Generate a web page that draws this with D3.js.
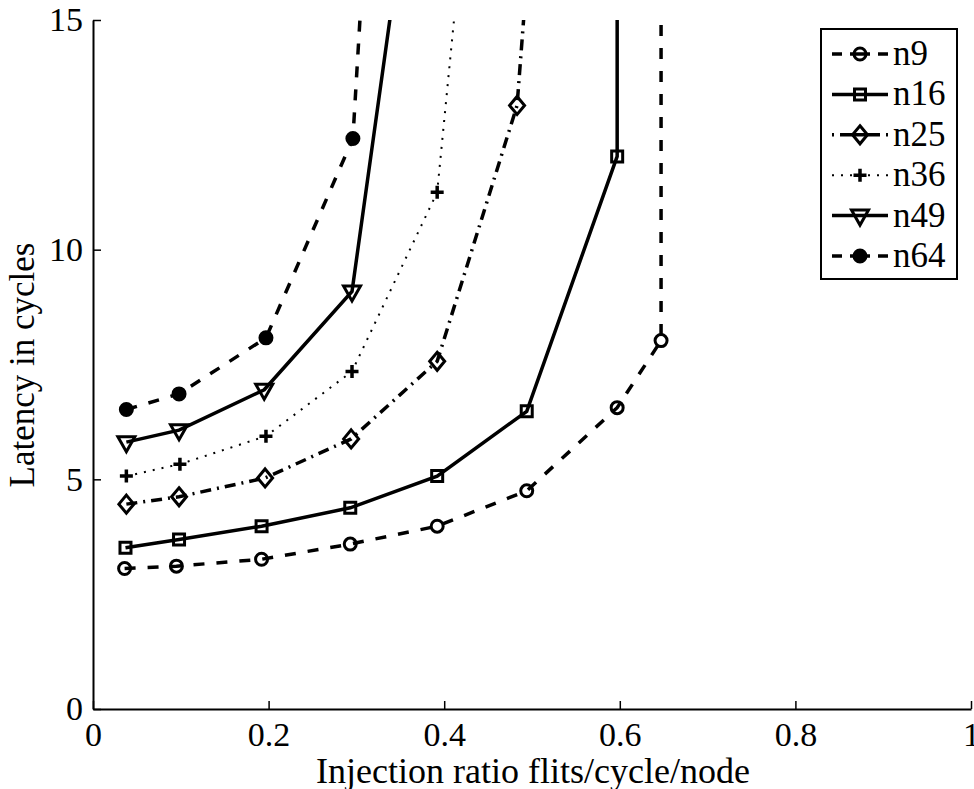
<!DOCTYPE html>
<html>
<head>
<meta charset="utf-8">
<script src="https://cdnjs.cloudflare.com/ajax/libs/d3/7.8.5/d3.min.js"></script>
<style>
  body { margin: 0; background: #fff; }
  svg text { font-family: "Liberation Serif", "Times New Roman", Times, serif; fill: #000; }
</style>
</head>
<body>
<script>
// series data (x = injection ratio, y = latency)
var names = ['n9', 'n16', 'n25', 'n36', 'n49', 'n64'];
var xN9 = [0.036, 0.095, 0.192, 0.293, 0.392, 0.494, 0.597, 0.647, 0.647];
var yN9 = [3.06, 3.11, 3.26, 3.59, 3.98, 4.75, 6.56, 8.02, 30];
var xN16 = [0.037, 0.098, 0.192, 0.293, 0.392, 0.494, 0.597, 0.597];
var yN16 = [3.51, 3.69, 3.98, 4.38, 5.07, 6.48, 12.03, 30];
var xN25 = [0.038, 0.098, 0.196, 0.294, 0.392, 0.483, 0.5];
var yN25 = [4.46, 4.62, 5.03, 5.88, 7.57, 13.14, 17.4];
var xN36 = [0.038, 0.099, 0.197, 0.295, 0.392, 0.45];
var yN36 = [5.07, 5.33, 5.94, 7.35, 11.25, 22.6];
var xN49 = [0.038, 0.098, 0.195, 0.295, 0.4];
var yN49 = [5.81, 6.07, 6.95, 9.09, 23.5];
var xN64 = [0.038, 0.098, 0.197, 0.296, 0.35];
var yN64 = [6.52, 6.86, 8.08, 12.42, 29.8];

var xTicks = [0, 0.2, 0.4, 0.6, 0.8, 1];
var yTicks = [0, 5, 10, 15];

var series = [
  { name: names[0], xs: xN9, ys: yN9, dash: '11,12', legendDash: '10,8,20,8,10', marker: 'circle' },
  { name: names[1], xs: xN16, ys: yN16, dash: null, marker: 'square' },
  { name: names[2], xs: xN25, ys: yN25, dash: '11,6,2,6', legendDash: '2,6,40,6,2', marker: 'diamond' },
  { name: names[3], xs: xN36, ys: yN36, dash: '2,7', marker: 'plus', width: 2 },
  { name: names[4], xs: xN49, ys: yN49, dash: null, marker: 'tri' },
  { name: names[5], xs: xN64, ys: yN64, dash: '11,12', legendDash: '10,8,20,8,10', marker: 'dot' }
];

var W = 974, H = 789;
var margin = { left: 93, right: 971, top: 20, bottom: 709 };

var svg = d3.select('body').append('svg')
  .attr('width', W)
  .attr('height', H);

var x = d3.scaleLinear().domain([0, 1]).range([margin.left, margin.right]);
var y = d3.scaleLinear().domain([0, 15]).range([margin.bottom, margin.top]);

svg.append('clipPath').attr('id', 'plotclip')
  .append('rect')
  .attr('x', margin.left).attr('y', margin.top)
  .attr('width', margin.right - margin.left)
  .attr('height', margin.bottom - margin.top);

// marker shapes, drawn unfilled like matlab
function markerPath(type) {
  switch (type) {
    case 'circle': return 'M6,0A6,6 0 1,1 -6,0A6,6 0 1,1 6,0Z';
    case 'square': return 'M-5.5,-5.5H5.5V5.5H-5.5Z';
    case 'diamond': return 'M0,-9L7.5,0L0,9L-7.5,0Z';
    case 'plus': return 'M-6.5,0H6.5M0,-6.5V6.5';
    case 'tri': return 'M-8.5,-5.5H8.5L0,9.5Z';
    case 'dot': return 'M6,0A6,6 0 1,1 -6,0A6,6 0 1,1 6,0Z';
  }
}

function drawMarker(g, type, px, py) {
  g.append('path')
    .attr('d', markerPath(type))
    .attr('transform', 'translate(' + px + ',' + py + ')')
    .attr('fill', type == 'dot' ? '#000' : 'none')
    .attr('stroke', '#000')
    .attr('stroke-width', type == 'plus' ? 3.5 : 3);
}

var line = d3.line()
  .x(function(d) { return x(d[0]); })
  .y(function(d) { return y(d[1]); });

var plot = svg.append('g').attr('clip-path', 'url(#plotclip)');

series.forEach(function(s) {
  var pts = s.xs.map(function(v, i) { return [v, s.ys[i]]; });
  plot.append('path')
    .datum(pts)
    .attr('d', line)
    .attr('fill', 'none')
    .attr('stroke', '#000')
    .attr('stroke-width', s.width || 3.5)
    .attr('stroke-dasharray', s.dash);
  pts.forEach(function(p) {
    drawMarker(plot, s.marker, x(p[0]), y(p[1]));
  });
});

// axes, ticks pointing inward
var xAxis = svg.append('g')
  .attr('transform', 'translate(0,' + margin.bottom + ')')
  .call(d3.axisBottom(x).tickValues(xTicks).tickSize(-8).tickSizeOuter(0).tickPadding(13)
    .tickFormat(function(d) { return d; }));
var yAxis = svg.append('g')
  .attr('transform', 'translate(' + margin.left + ',0)')
  .call(d3.axisLeft(y).tickValues(yTicks).tickSize(-8).tickSizeOuter(0).tickPadding(10));

[xAxis, yAxis].forEach(function(a) {
  a.attr('font-family', null).attr('font-size', null);
  a.select('.domain').attr('stroke', '#000').attr('stroke-width', 2);
  a.selectAll('.tick line').attr('stroke', '#000').attr('stroke-width', 1.5);
  a.selectAll('.tick text')
    .style('font-size', '34px')
    .attr('fill', '#000');
});

// axis labels
svg.append('text')
  .attr('x', 533)
  .attr('y', 783)
  .attr('text-anchor', 'middle')
  .style('font-size', '36px')
  .text('Injection ratio flits/cycle/node');

svg.append('text')
  .attr('transform', 'translate(34,365) rotate(-90)')
  .attr('text-anchor', 'middle')
  .style('font-size', '35px')
  .text('Latency in cycles');

// legend
var legend = svg.append('g');
legend.append('rect')
  .attr('x', 821).attr('y', 29)
  .attr('width', 136).attr('height', 250)
  .attr('fill', '#fff')
  .attr('stroke', '#000')
  .attr('stroke-width', 2);

series.forEach(function(s, i) {
  var ly = 54 + i * 40.4;
  legend.append('line')
    .attr('x1', 832).attr('x2', 888)
    .attr('y1', ly).attr('y2', ly)
    .attr('stroke', '#000')
    .attr('stroke-width', s.width || 3.5)
    .attr('stroke-dasharray', s.legendDash || s.dash);
  drawMarker(legend, s.marker, 860, ly);
  legend.append('text')
    .attr('x', 893).attr('y', ly + 11)
    .style('font-size', '35px')
    .text(s.name);
});
</script>
</body>
</html>
